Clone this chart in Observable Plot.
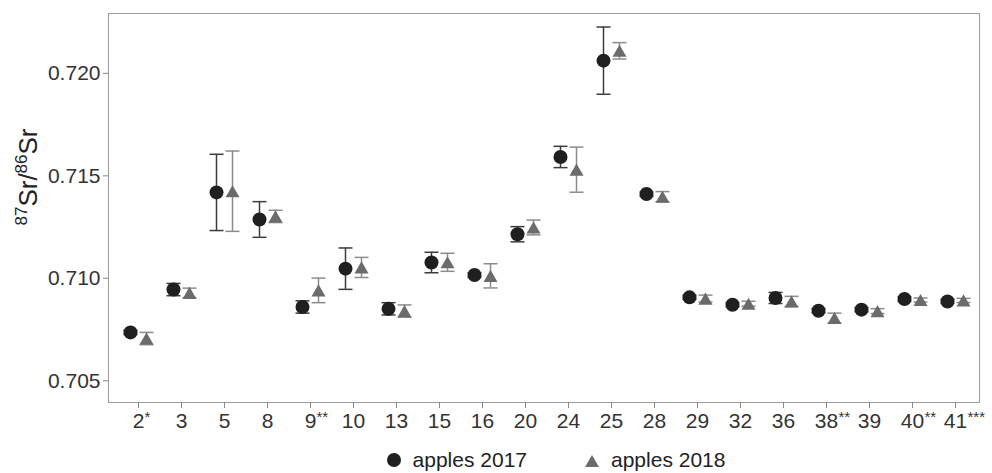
<!DOCTYPE html>
<html>
<head>
<meta charset="utf-8">
<script src="https://cdn.jsdelivr.net/npm/d3@7"></script>
<script src="https://cdn.jsdelivr.net/npm/@observablehq/plot@0.6"></script>
<style>
  body { margin: 0; background: #fff; font-family: "Liberation Sans", Arial, sans-serif; overflow: hidden; }
  #chart svg { display: block; }
  #legend { display: flex; align-items: center; justify-content: center; padding-left: 120px;
            margin-top: 8px; height: 24px; line-height: 24px; font-size: 21px; color: #222; }
  #legend .item { display: flex; align-items: center; }
  #legend svg { display: block; margin-right: 12px; }
</style>
</head>
<body>
<div id="chart"></div>
<div id="legend"></div>
<script>
// ---- data ----
const cats = ["2","3","5","8","9","10","13","15","16","20","24","25","28","29","32","36","38","39","40","41"];
const sig  = ["*","","","","**","","","","","","","","","","","","**","","**","***"];
const mean2017 = [0.70736,0.70945,0.71419,0.71287,0.70860,0.71047,0.70851,0.71077,0.71016,0.71215,0.71592,0.72062,0.71411,0.70907,0.70871,0.70904,0.70842,0.70847,0.70899,0.70887];
const sd2017   = [0.0001,0.0003,0.00186,0.00087,0.0003,0.00101,0.0003,0.0005,0.0001,0.00037,0.00052,0.00164,0.0001,0.0001,0.0001,0.00027,0.0001,0.0001,0.0001,0.0001];
const mean2018 = [0.70706,0.70929,0.71425,0.71302,0.70941,0.71053,0.70840,0.71078,0.71012,0.71248,0.71530,0.72110,0.71398,0.70901,0.70876,0.70887,0.70806,0.70840,0.70894,0.70892];
const sd2018   = [0.0003,0.00023,0.00196,0.0003,0.0006,0.00049,0.0003,0.00044,0.00059,0.00036,0.0011,0.0004,0.00025,0.00017,0.00012,0.00025,0.00024,0.00012,0.0001,0.0001];
const yTicks = [0.705, 0.710, 0.715, 0.720];
const seriesNames = ["apples 2017", "apples 2018"];

// ---- styles ----
const C2017 = "#1f1f1f", C2018 = "#6b6b6b";
const E2017 = "#3c3c3c", E2018 = "#8c8c8c";

const rows = (means, sds) => cats.map((c, i) => ({cat: c, mean: means[i], lo: means[i] - sds[i], hi: means[i] + sds[i]}));
const r17 = rows(mean2017, sd2017);
const r18 = rows(mean2018, sd2018);
const sigRows = cats.map((c, i) => ({cat: c, sig: sig[i]})).filter(d => d.sig);

const triangle = {draw(ctx, size) {
  const w = Math.sqrt(size / Math.PI), h = w * Math.sqrt(3);
  ctx.moveTo(0, -h / 2); ctx.lineTo(w, h / 2); ctx.lineTo(-w, h / 2); ctx.closePath();
}};
const cap = {draw(ctx, size) {
  const w = Math.sqrt(size / Math.PI);
  ctx.moveTo(-w, 0); ctx.lineTo(w, 0);
}};

const off = 8;
const font = "Liberation Sans, Arial, sans-serif";

const chart = Plot.plot({
  width: 992,
  height: 440,
  marginLeft: 108,
  marginRight: 13,
  marginTop: 13,
  marginBottom: 38,
  style: {fontFamily: font, fontSize: "21px", background: "#fff", color: "#333"},
  x: {type: "point", domain: cats, padding: 0.475, align: 0.55},
  y: {domain: [0.70394, 0.72292]},
  marks: [
    Plot.frame({stroke: "#9a9a9a"}),
    Plot.axisY({ticks: yTicks, tickFormat: d3.format(".3f"), tickSize: 5, tickPadding: 3, label: null,
                stroke: "#888", fill: "#333", fontSize: 21}),
    Plot.axisX({tickSize: 6, tickPadding: 5, label: null, stroke: "#888", fill: "#333", fontSize: 21}),
    Plot.text(sigRows.filter(d => d.cat.length === 1), {x: "cat", text: "sig", frameAnchor: "bottom",
      lineAnchor: "bottom", textAnchor: "start", dx: 6, dy: 19, fontSize: 15, fill: "#333"}),
    Plot.text(sigRows.filter(d => d.cat.length > 1), {x: "cat", text: "sig", frameAnchor: "bottom",
      lineAnchor: "bottom", textAnchor: "start", dx: 12, dy: 19, fontSize: 15, fill: "#333"}),
    // error bars
    Plot.ruleX(r17, {x: "cat", y1: "lo", y2: "hi", dx: -off, stroke: E2017, strokeWidth: 1.5}),
    Plot.ruleX(r18, {x: "cat", y1: "lo", y2: "hi", dx: off, stroke: E2018, strokeWidth: 1.5}),
    Plot.dot(r17, {x: "cat", y: "hi", dx: -off, symbol: cap, r: 7, stroke: E2017, strokeWidth: 1.5, fill: "none"}),
    Plot.dot(r17, {x: "cat", y: "lo", dx: -off, symbol: cap, r: 7, stroke: E2017, strokeWidth: 1.5, fill: "none"}),
    Plot.dot(r18, {x: "cat", y: "hi", dx: off, symbol: cap, r: 7, stroke: E2018, strokeWidth: 1.5, fill: "none"}),
    Plot.dot(r18, {x: "cat", y: "lo", dx: off, symbol: cap, r: 7, stroke: E2018, strokeWidth: 1.5, fill: "none"}),
    // markers
    Plot.dot(r17, {x: "cat", y: "mean", dx: -off, r: 7, fill: C2017, stroke: "none"}),
    Plot.dot(r18, {x: "cat", y: "mean", dx: off, r: 7, symbol: triangle, fill: C2018, stroke: "none"})
  ]
});
document.getElementById("chart").appendChild(chart);

// y-axis title with superscripts
const svg = d3.select(chart);
const yt = svg.append("text")
  .attr("transform", "translate(37,177) rotate(-90)")
  .attr("text-anchor", "middle")
  .attr("fill", "#222")
  .attr("font-family", font)
  .attr("font-size", 26);
yt.append("tspan").attr("font-size", 17).attr("dy", -10).text("87");
yt.append("tspan").attr("dy", 10).text("Sr/");
yt.append("tspan").attr("font-size", 17).attr("dy", -10).text("86");
yt.append("tspan").attr("dy", 10).text("Sr");

// legend
const legend = d3.select("#legend");
const items = [
  {name: seriesNames[0], draw: s => s.append("circle").attr("cx", 7).attr("cy", 7).attr("r", 7).attr("fill", C2017), gap: 58},
  {name: seriesNames[1], draw: s => s.append("path").attr("transform", "translate(7,8)")
      .attr("d", d3.symbol(triangle, Math.PI * 49)()).attr("fill", C2018), gap: 0}
];
items.forEach(it => {
  const d = legend.append("div").attr("class", "item").style("margin-right", it.gap + "px");
  const s = d.append("svg").attr("width", 14).attr("height", 14);
  it.draw(s);
  d.append("span").text(it.name);
});
</script>
</body>
</html>
